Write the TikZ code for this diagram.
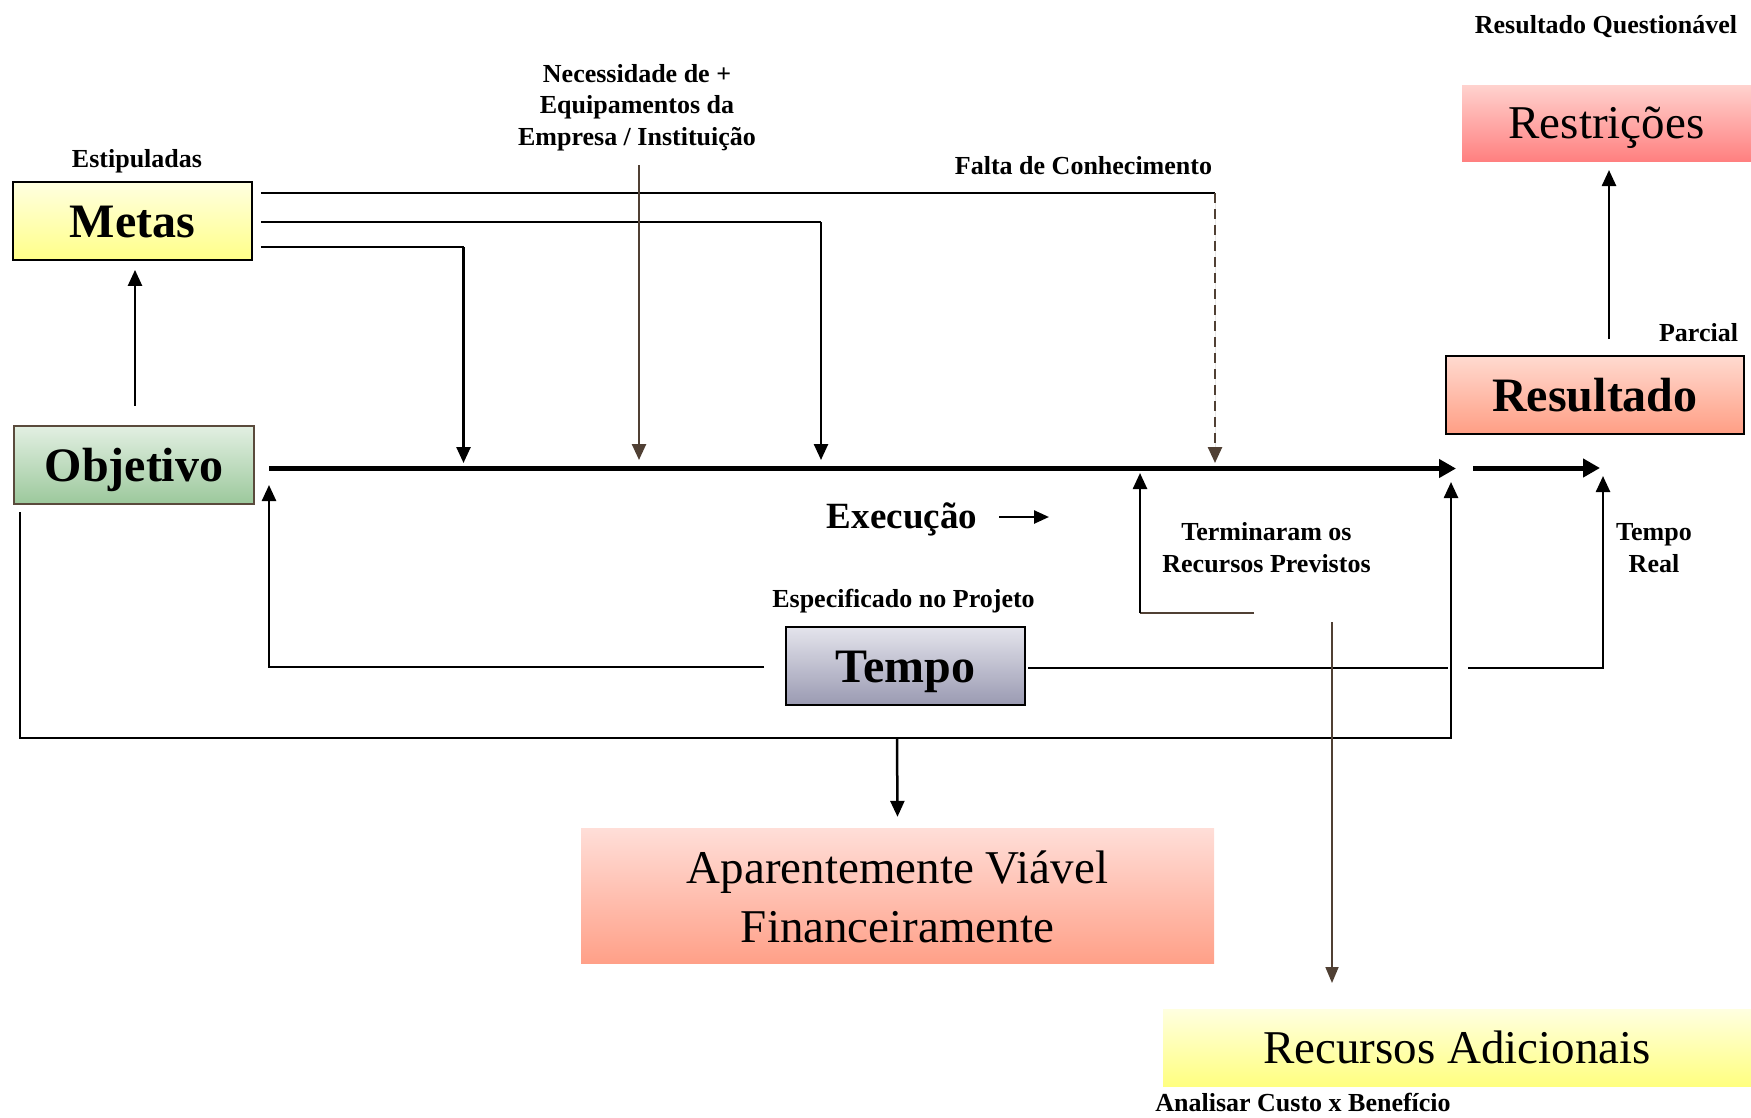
\documentclass[tikz,border=0pt]{standalone}
\usepackage{fontspec}
\setmainfont{Liberation Serif}
\usetikzlibrary{arrows.meta}

\definecolor{brownline}{RGB}{80,64,52}
\definecolor{objborder}{RGB}{90,74,60}

\begin{document}
\begin{tikzpicture}[x=1pt,y=-1pt,
  conn/.style={line width=2.5pt, -{Triangle[length=16pt,width=14pt]}},
  brownconn/.style={conn, draw=brownline, fill=brownline},
  plainline/.style={line width=2.6pt},
  flow/.style={line width=5pt, -{Triangle[length=17pt,width=18pt]}},
  lbl/.style={font=\fontsize{26}{31.5}\selectfont\bfseries, inner sep=0pt, anchor=base, align=center},
  bigbold/.style={font=\fontsize{48}{56}\selectfont\bfseries, text height=32pt, text depth=0pt, inner sep=0pt},
  bigreg/.style={font=\fontsize{47}{59}\selectfont, text height=31pt, text depth=0pt, inner sep=0pt},
  regtext/.style={font=\fontsize{47}{58.5}\selectfont, inner sep=0pt, anchor=base, align=center},
]
\useasboundingbox (0,0) rectangle (1751,1117);

% ---- boxes ----
\node[bigbold, draw=black, line width=1.8pt, top color=yellow!12, bottom color={rgb,255:red,255;green,255;blue,136},
      minimum width=239pt, minimum height=78pt] (metas) at (132.5,221) {Metas};
\node[bigbold, draw=objborder, line width=2.2pt, top color={rgb,255:red,226;green,239;blue,226}, bottom color={rgb,255:red,156;green,200;blue,156},
      minimum width=240pt, minimum height=78pt] (objetivo) at (134,465) {Objetivo};
\node[bigbold, draw=black, line width=2pt, top color={rgb,255:red,228;green,228;blue,236}, bottom color={rgb,255:red,154;green,154;blue,178},
      minimum width=239pt, minimum height=78pt] (tempo) at (905.5,666) {Tempo};
\node[bigbold, draw=black, line width=2pt, top color={rgb,255:red,255;green,218;blue,208}, bottom color={rgb,255:red,255;green,158;blue,132},
      minimum width=298pt, minimum height=78pt] (resultado) at (1595,395) {Resultado};
\node[bigreg, top color={rgb,255:red,255;green,210;blue,206}, bottom color={rgb,255:red,255;green,128;blue,128},
      minimum width=289pt, minimum height=76pt] (restricoes) at (1606.5,123) {Restrições};
\node[top color={rgb,255:red,255;green,222;blue,216}, bottom color={rgb,255:red,255;green,160;blue,136},
      minimum width=633pt, minimum height=135pt, inner sep=0pt] (aparente) at (897.5,895.5) {};
\node[regtext] (aparentetxt) at (897.5,942) {Aparentemente Viável\\Financeiramente};
\node[bigreg, top color={rgb,255:red,255;green,255;blue,224}, bottom color={rgb,255:red,255;green,255;blue,128},
      minimum width=588pt, minimum height=77pt] (recursos) at (1457,1047.5) {Recursos Adicionais};

% ---- labels (base = last line) ----
\node[lbl] (estip) at (137,167) {Estipuladas};
\node[lbl] (neclbl) at (637,145) {Necessidade de +\\Equipamentos da\\Empresa / Instituição};
\node[lbl] (falta) at (1083.5,174) {Falta de Conhecimento};
\node[lbl] (espec) at (903.5,607) {Especificado no Projeto};
\node[lbl, font=\fontsize{37}{40}\selectfont\bfseries] (exec) at (902,528) {Execução};
\node[lbl] (termin) at (1266.5,572) {Terminaram os\\Recursos Previstos};
\node[lbl] (treal) at (1654,572) {Tempo\\Real};
\node[lbl] (questao) at (1606,33) {Resultado Questionável};
\node[lbl] (parcial) at (1698.5,341) {Parcial};
\node[lbl] (analisar) at (1303,1111) {Analisar Custo x Benefício};

% ---- free ends ----
\coordinate (mainL) at (269,468.5);
\coordinate (mainR) at (1456,468.5);
\coordinate (outL) at (1473,468);
\coordinate (outR) at (1600,468);
\coordinate (m1) at (463.5,463);
\coordinate (m2) at (821,460);
\coordinate (fk) at (1215,193);
\coordinate (m3) at (1215,463);
\coordinate (n0) at (639,165);
\coordinate (n1) at (639,460);
\coordinate (objtip) at (269,485);
\coordinate (tr1) at (1448,668);
\coordinate (tr2) at (1468,668);
\coordinate (trtip) at (1603,476);
\coordinate (bl) at (1451,738);
\coordinate (bltip) at (1451,482);
\coordinate (ap0) at (897,738);
\coordinate (tb0) at (1254,613);
\coordinate (tb1) at (1140,613);
\coordinate (ttip) at (1140,473);
\coordinate (rc0) at (1332,622);
\coordinate (rctip) at (1332,983);
\coordinate (res0) at (1609,339);
\coordinate (restip) at (1609,170);
\coordinate (ex0) at (999,517);
\coordinate (ex1) at (1049,517);

% ---- connectors ----
\draw[conn] ([xshift=1pt,yshift=19pt]objetivo.north) -- ([xshift=2.5pt,yshift=-9pt]metas.south);
\draw[flow] (mainL) -- (mainR);
\draw[flow] (outL) -- (outR);

\draw[plainline] ([xshift=8pt,yshift=-26pt]metas.east) -| (463.5,247);
\draw[conn] (463.5,247) -- (m1);
\draw[plainline] ([xshift=8pt,yshift=-1pt]metas.east) -| (821,222);
\draw[conn] (821,222) -- (m2);
\draw[plainline] ([xshift=8pt,yshift=28pt]metas.east) -- (fk);
\draw[brownconn, dash pattern=on 10pt off 6pt] (fk) -- (m3);
\draw[brownconn] (n0) -- (n1);

\draw[conn] ([xshift=-21pt,yshift=-1pt]tempo.west) -| (objtip);
\draw[line width=2.5pt] ([xshift=2pt]tempo.east |- tr1) -- (tr1);
\draw[conn] (tr2) -| (trtip);
\draw[conn] ([xshift=7pt,yshift=-7pt]objetivo.south west) |- (bl) -- (bltip);
\draw[conn] (ap0) -- ([yshift=11pt]aparente.north);

\draw[line width=2.6pt, brownline] (tb0) -- (tb1);
\draw[conn] (tb1) -- (ttip);
\draw[line width=1.8pt, brownline, -{Triangle[length=16pt,width=13pt]}] (rc0) -- (rctip);
\draw[conn] (res0) -- (restip);
\draw[conn, -{Triangle[length=15pt,width=13pt]}] (ex0) -- (ex1);
\end{tikzpicture}
\end{document}
